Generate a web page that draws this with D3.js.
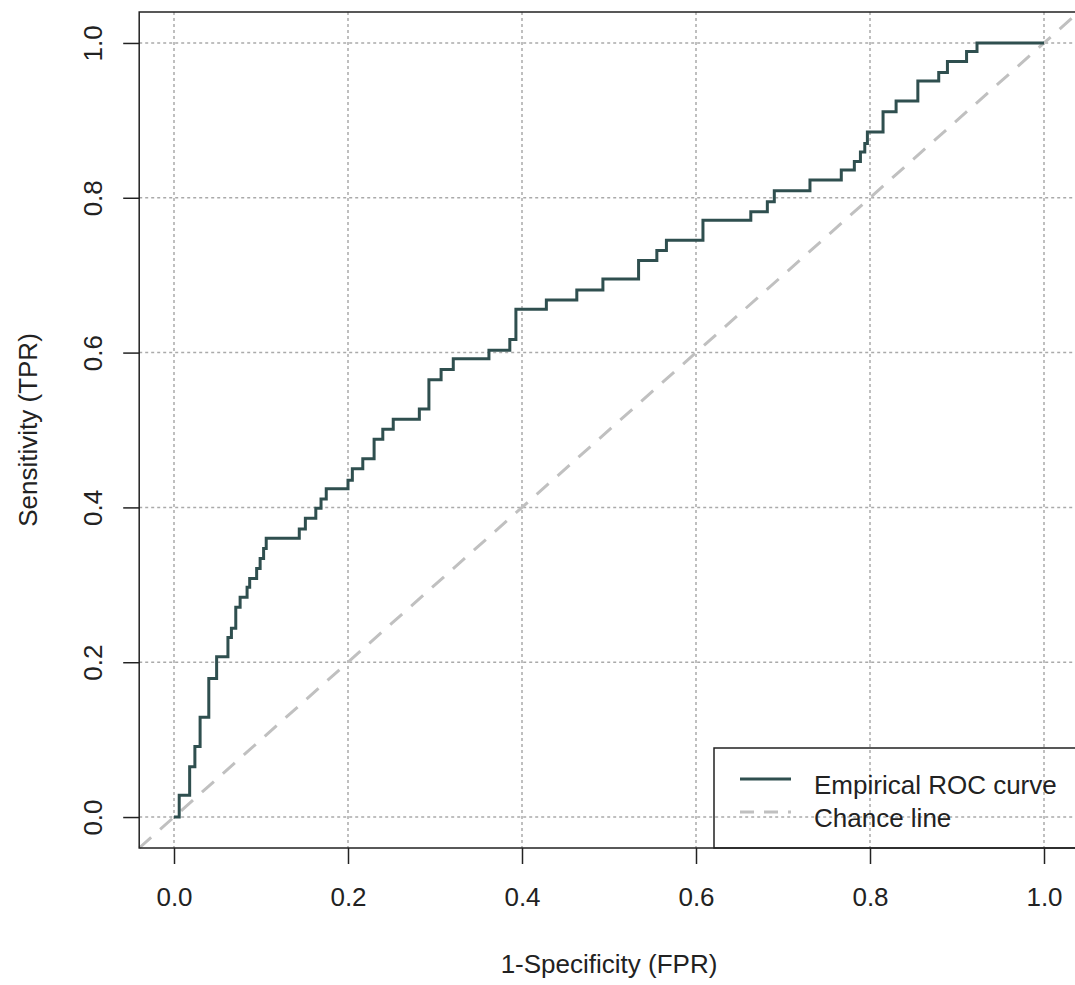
<!DOCTYPE html>
<meta charset="utf-8">
<style>
  body { margin: 0; background: #fff; }
  svg { display: block; font-family: "Liberation Sans", Arial, sans-serif; }
  .grid line { stroke: #aaaaaa; stroke-width: 1.5px; stroke-dasharray: 3,3; }
  .axis text { font-size: 26px; fill: #222; }
  .axis line { stroke: #222; stroke-width: 1.5px; }
  .roc { fill: none; stroke: #2f4f4f; stroke-width: 3px; }
  .chance { fill: none; stroke: #c0c0c0; stroke-width: 3px; stroke-dasharray: 16,12; }
  .title { font-size: 26px; fill: #222; }
</style>

<body>
  <script src="https://cdn.jsdelivr.net/npm/d3@7"></script>
  <script>

    // ROC corner points
    var fprValues = [0, 0.006, 0.018, 0.024, 0.030, 0.040, 0.049, 0.062, 0.066, 0.071,
      0.076, 0.084, 0.087, 0.095, 0.099, 0.103, 0.106, 0.144, 0.151, 0.163,
      0.169, 0.175, 0.200, 0.205, 0.217, 0.230, 0.240, 0.252, 0.282, 0.293,
      0.307, 0.321, 0.362, 0.386, 0.393, 0.428, 0.463, 0.493, 0.534, 0.555,
      0.566, 0.608, 0.663, 0.682, 0.690, 0.731, 0.767, 0.782, 0.789, 0.794,
      0.797, 0.815, 0.830, 0.855, 0.879, 0.889, 0.911, 0.923, 1.0];
    var tprValues = [0, 0.028, 0.065, 0.091, 0.129, 0.179, 0.207, 0.232, 0.244, 0.271,
      0.284, 0.297, 0.308, 0.321, 0.334, 0.347, 0.360, 0.372, 0.386, 0.399,
      0.411, 0.424, 0.435, 0.450, 0.463, 0.488, 0.501, 0.514, 0.527, 0.565,
      0.578, 0.592, 0.603, 0.617, 0.656, 0.668, 0.681, 0.695, 0.719, 0.732,
      0.745, 0.771, 0.782, 0.795, 0.809, 0.823, 0.836, 0.847, 0.859, 0.870,
      0.885, 0.911, 0.925, 0.951, 0.962, 0.976, 0.989, 1.0, 1.0];
    var xTicks = [0, 0.2, 0.4, 0.6, 0.8, 1.0];
    var yTicks = [0, 0.2, 0.4, 0.6, 0.8, 1.0];
    var legendLabels = ["Empirical ROC curve", "Chance line"];

    var width = 1075, height = 985;
    var plot = {left: 139.2, right: 1078.8, top: 12, bottom: 848};

    var x = d3.scaleLinear().domain([-0.04, 1.04]).range([plot.left, plot.right]);
    var y = d3.scaleLinear().domain([-0.04, 1.04]).range([plot.bottom, plot.top]);

    var svg = d3.select("body").append("svg")
      .attr("width", width)
      .attr("height", height);

    svg.append("rect").attr("width", width).attr("height", height).attr("fill", "#fff");

    // grid
    var grid = svg.append("g").attr("class", "grid");
    grid.selectAll(".gx").data(xTicks).enter().append("line")
      .attr("x1", function(d) { return x(d); }).attr("x2", function(d) { return x(d); })
      .attr("y1", plot.top).attr("y2", plot.bottom);
    grid.selectAll(".gy").data(yTicks).enter().append("line")
      .attr("y1", function(d) { return y(d); }).attr("y2", function(d) { return y(d); })
      .attr("x1", plot.left).attr("x2", plot.right);

    // chance line across the whole plot
    svg.append("line")
      .attr("class", "chance")
      .attr("x1", x(-0.04)).attr("y1", y(-0.04))
      .attr("x2", x(1.04)).attr("y2", y(1.04));

    var pts = fprValues.map(function(d, i) { return [d, tprValues[i]]; });
    var rocLine = d3.line()
      .x(function(d) { return x(d[0]); })
      .y(function(d) { return y(d[1]); })
      .curve(d3.curveStepAfter);

    svg.append("path")
      .datum(pts)
      .attr("class", "roc")
      .attr("d", rocLine);

    // axes
    var fmt = d3.format(".1f");
    var xAxis = svg.append("g")
      .attr("class", "axis")
      .attr("transform", "translate(0," + plot.bottom + ")")
      .call(d3.axisBottom(x).tickValues(xTicks).tickSize(16).tickPadding(24).tickFormat(fmt));
    xAxis.select(".domain").remove();

    var yAxis = svg.append("g")
      .attr("class", "axis")
      .attr("transform", "translate(" + plot.left + ",0)")
      .call(d3.axisLeft(y).tickValues(yTicks).tickSize(16).tickFormat(fmt));
    yAxis.select(".domain").remove();
    yAxis.selectAll("text")
      .attr("transform", "rotate(-90)")
      .attr("x", 0).attr("y", -37).attr("dy", 0)
      .style("text-anchor", "middle");

    svg.selectAll(".axis").attr("font-family", null).attr("font-size", null);

    // box
    svg.append("rect")
      .attr("x", plot.left).attr("y", plot.top)
      .attr("width", plot.right - plot.left).attr("height", plot.bottom - plot.top)
      .attr("fill", "none").attr("stroke", "#222").attr("stroke-width", 1.5);

    // titles
    svg.append("text")
      .attr("class", "title")
      .attr("x", x(0.5)).attr("y", 973)
      .attr("text-anchor", "middle")
      .text("1-Specificity (FPR)");

    svg.append("text")
      .attr("class", "title")
      .attr("transform", "translate(37," + y(0.5) + ") rotate(-90)")
      .attr("text-anchor", "middle")
      .text("Sensitivity (TPR)");

    // legend (transparent, grid shows through)
    var legend = svg.append("g");
    legend.append("rect")
      .attr("x", 714).attr("y", 748)
      .attr("width", plot.right - 714).attr("height", plot.bottom - 748)
      .attr("fill", "none").attr("stroke", "#222").attr("stroke-width", 1.5);

    var legendClass = ["roc", "chance"];
    legendLabels.forEach(function(label, i) {
      var ly = 779 + i * 33;
      legend.append("line")
        .attr("class", legendClass[i])
        .attr("x1", 740).attr("x2", 791)
        .attr("y1", ly).attr("y2", ly)
        .style("stroke-dasharray", i === 1 ? "14,10" : null);
      legend.append("text")
        .attr("class", "title")
        .attr("x", 814).attr("y", ly + 15)
        .text(label);
    });

  </script>
</body>
